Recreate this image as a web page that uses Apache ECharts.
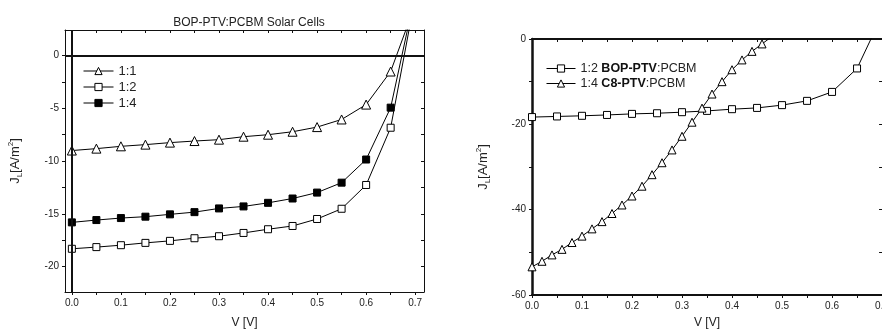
<!DOCTYPE html>
<html><head><meta charset="utf-8">
<script src="https://cdn.jsdelivr.net/npm/echarts@6/dist/echarts.min.js"></script>
<style>html,body{margin:0;padding:0;overflow:hidden;background:#fff}#c{width:892px;height:334px}</style>
</head><body><div id="c"></div><script>
// ---- Left chart data (BOP-PTV:PCBM, different ratios) ----
const voltage = [0, 0.05, 0.10, 0.15, 0.20, 0.25, 0.30, 0.35, 0.40, 0.45, 0.50, 0.55, 0.60, 0.65, 0.70];
const j11 = [-9.01, -8.83, -8.61, -8.45, -8.26, -8.11, -7.98, -7.70, -7.51, -7.23, -6.79, -6.07, -4.66, -1.53, 4.8];
const j12 = [-18.31, -18.15, -17.97, -17.75, -17.56, -17.31, -17.12, -16.81, -16.46, -16.15, -15.49, -14.52, -12.27, -6.85, 5.5];
const j14 = [-15.81, -15.59, -15.40, -15.27, -15.05, -14.84, -14.49, -14.30, -13.96, -13.55, -12.99, -12.05, -9.86, -4.95, 5.8];
// ---- Right chart data ----
const bopVoltage = [0, 0.05, 0.10, 0.15, 0.20, 0.25, 0.30, 0.35, 0.40, 0.45, 0.50, 0.55, 0.60, 0.65, 0.70];
const bopJ = [-18.3, -18.15, -18.0, -17.8, -17.55, -17.4, -17.15, -16.85, -16.45, -16.15, -15.5, -14.5, -12.4, -6.9, 5.5];
const c8Voltage = [0, 0.02, 0.04, 0.06, 0.08, 0.10, 0.12, 0.14, 0.16, 0.18, 0.20, 0.22, 0.24, 0.26, 0.28, 0.30, 0.32, 0.34, 0.36, 0.38, 0.40, 0.42, 0.44, 0.46, 0.48];
const c8J = [-53.4, -52.1, -50.6, -49.3, -47.7, -46.2, -44.5, -42.8, -40.9, -38.9, -36.8, -34.5, -31.8, -29.0, -26.0, -22.8, -19.5, -16.2, -12.9, -10.0, -7.2, -4.9, -2.9, -1.15, 0.6];
// ---- tick labels ----
const leftXLabels = [0, 0.1, 0.2, 0.3, 0.4, 0.5, 0.6, 0.7];
const leftXTicks = [0, 0.05, 0.1, 0.15, 0.2, 0.25, 0.3, 0.35, 0.4, 0.45, 0.5, 0.55, 0.6, 0.65, 0.7];
const leftYLabels = [-20, -15, -10, -5, 0];
const leftYTicks = [-20, -17.5, -15, -12.5, -10, -7.5, -5, -2.5, 0];
const rightXLabels = [0, 0.1, 0.2, 0.3, 0.4, 0.5, 0.6, 0.7];
const rightXTicks = [0, 0.05, 0.1, 0.15, 0.2, 0.25, 0.3, 0.35, 0.4, 0.45, 0.5, 0.55, 0.6, 0.65, 0.7];
const rightYLabels = [-60, -40, -20, 0];
const rightYTicks = [-60, -50, -40, -30, -20, -10, 0];

const legendLeft = ['1:1', '1:2', '1:4'];
const legendRight = ['1:2 BOP-PTV:PCBM', '1:4 C8-PTV:PCBM'];

const FONT = "'Liberation Sans', Arial, sans-serif";
const TXT = '#222';
const zip = (xs, ys) => xs.map((x, i) => [x, ys[i]]);

const nameRich = {
  m: {fontSize: 13, fontFamily: FONT, color: TXT, lineHeight: 17},
  sub: {fontSize: 8, fontFamily: FONT, color: TXT, verticalAlign: 'bottom'},
  sup: {fontSize: 8, fontFamily: FONT, color: TXT, verticalAlign: 'top'}
};
const yName = '{m|J}{sub|L}{m|[A/m}{sup|2}{m|]}';

function xAx(grid, pos, min, max, ticks, labels, lw, extra) {
  return Object.assign({
    type: 'value', gridIndex: grid, position: pos, min: min, max: max,
    splitLine: {show: false},
    axisLine: {show: true, onZero: false, lineStyle: {color: '#111', width: lw}},
    axisTick: {show: true, inside: pos === 'top', length: 3, customValues: ticks, lineStyle: {color: '#111'}},
    axisLabel: labels ? {show: true, customValues: labels, formatter: v => v.toFixed(1), fontSize: 10, fontFamily: FONT, color: TXT, margin: 6} : {show: false}
  }, extra || {});
}
function yAx(grid, pos, min, max, ticks, labels, lw, extra) {
  return Object.assign({
    type: 'value', gridIndex: grid, position: pos, min: min, max: max,
    splitLine: {show: false},
    axisLine: {show: true, onZero: false, lineStyle: {color: '#111', width: lw}},
    axisTick: {show: true, inside: pos === 'right', length: 3, customValues: ticks, lineStyle: {color: '#111'}},
    axisLabel: labels ? {show: true, customValues: labels, formatter: v => String(v), fontSize: 10, fontFamily: FONT, color: TXT, margin: 6} : {show: false}
  }, extra || {});
}

const lineStyle = {color: '#000', width: 1};
function ser(name, xi, yi, data, symbol, size, fill) {
  return {
    name: name, type: 'line', xAxisIndex: xi, yAxisIndex: yi, data: data,
    symbol: symbol, symbolSize: size, showAllSymbol: true, clip: true,
    lineStyle: lineStyle,
    itemStyle: {color: fill, borderColor: '#000', borderWidth: 1},
    emphasis: {disabled: true}, animation: false
  };
}

const s11 = ser('1:1', 0, 0, zip(voltage, j11), 'triangle', 9, '#fff');
s11.markLine = {
  silent: true, symbol: ['none', 'none'], label: {show: false},
  lineStyle: {color: '#111', width: 2, type: 'solid'},
  data: [{xAxis: 0}, {yAxis: 0}], animation: false
};

const legendBase = {
  orient: 'vertical', padding: 0, itemWidth: 30, itemHeight: 9, selectedMode: false,
  lineStyle: {width: 1, color: '#000'},
  itemStyle: {borderWidth: 1, borderColor: '#000'}
};

const option = {
  backgroundColor: '#fff',
  animation: false,
  title: {
    text: 'BOP-PTV:PCBM Solar Cells', left: 244, top: 12, textAlign: 'center',
    textStyle: {fontSize: 12, fontWeight: 'normal', fontFamily: FONT, color: TXT}
  },
  grid: [
    {left: 65, top: 30, width: 359, height: 264},
    {left: 532, top: 39, width: 352, height: 260}
  ],
  xAxis: [
    xAx(0, 'bottom', -0.014, 0.718, leftXTicks, leftXLabels, 1, {name: 'V [V]', nameLocation: 'middle', nameGap: 25, nameTextStyle: {fontSize: 12, fontFamily: FONT, color: TXT}}),
    xAx(0, 'top', -0.014, 0.718, leftXTicks, null, 1),
    xAx(1, 'bottom', 0, 0.7, rightXTicks, rightXLabels, 2, {name: 'V [V]', nameLocation: 'middle', nameGap: 22, nameTextStyle: {fontSize: 12, fontFamily: FONT, color: TXT}}),
    xAx(1, 'top', 0, 0.7, rightXTicks, null, 2)
  ],
  yAxis: [
    yAx(0, 'left', -22.4, 2.4, leftYTicks, leftYLabels, 1, {name: yName, nameLocation: 'middle', nameGap: 41, nameRotate: 90, nameTextStyle: {rich: nameRich}}),
    yAx(0, 'right', -22.4, 2.4, leftYTicks, null, 1),
    yAx(1, 'left', -60, 0, rightYTicks, rightYLabels, 2.5, {name: yName, nameLocation: 'middle', nameGap: 40, nameRotate: 90, nameTextStyle: {rich: nameRich}}),
    yAx(1, 'right', -60, 0, rightYTicks, null, 1)
  ],
  legend: [
    Object.assign({}, legendBase, {
      data: legendLeft, left: 83, top: 63, itemGap: 0,
      textStyle: {fontSize: 13, fontFamily: FONT, color: TXT, lineHeight: 16}
    }),
    Object.assign({}, legendBase, {
      data: legendRight, left: 546, top: 61, itemGap: 0, itemWidth: 29,
      formatter: function (name) {
        const p = name.split(' ');
        const q = p[1].split(':');
        return p[0] + ' {b|' + q[0] + '}:' + q[1];
      },
      textStyle: {fontSize: 12.5, fontFamily: FONT, color: TXT, lineHeight: 15,
        rich: {b: {fontSize: 12.5, fontFamily: FONT, color: '#111', fontWeight: 'bold', lineHeight: 15}}}
    })
  ],
  series: [
    s11,
    ser('1:2', 0, 0, zip(voltage, j12), 'rect', 7, '#fff'),
    ser('1:4', 0, 0, zip(voltage, j14), 'rect', 7, '#000'),
    ser('1:2 BOP-PTV:PCBM', 2, 2, zip(bopVoltage, bopJ), 'rect', 7, '#fff'),
    ser('1:4 C8-PTV:PCBM', 2, 2, zip(c8Voltage, c8J), 'triangle', 8, '#fff')
  ]
};
const chart = echarts.init(document.getElementById('c'), null, {renderer: 'canvas'});
chart.setOption(option);
</script></body></html>
